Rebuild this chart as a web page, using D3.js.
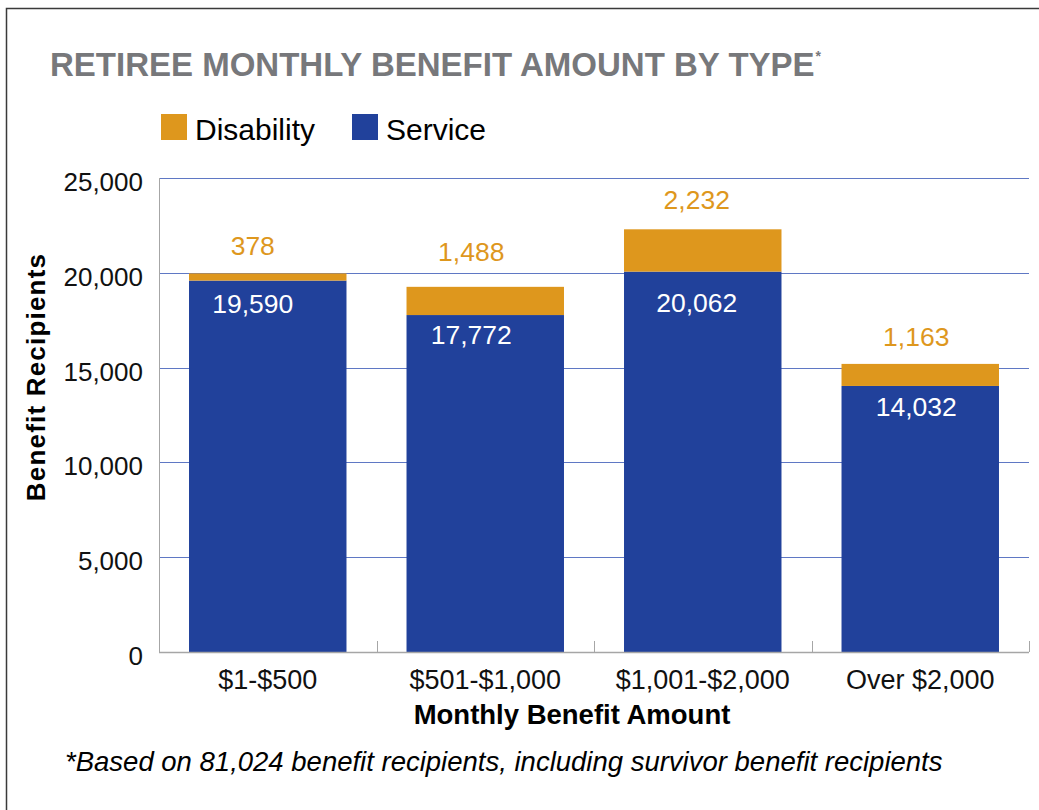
<!DOCTYPE html>
<html>
<head>
<meta charset="utf-8">
<script src="https://cdn.jsdelivr.net/npm/d3@7"></script>
<style>
    body { margin: 0; background: #fff; }
    svg { display: block; font-family: "Liberation Sans", Arial, sans-serif; }
</style>
</head>
<body>
<svg id="chart" width="1039" height="810"></svg>
<script>
// Chart data
const categories = ['$1-$500', '$501-$1,000', '$1,001-$2,000', 'Over $2,000'];
const serviceValues = [19590, 17772, 20062, 14032];
const disabilityValues = [378, 1488, 2232, 1163];
const yTicks = [0, 5000, 10000, 15000, 20000, 25000];

const seriesNames = ['Disability', 'Service'];
const colors = { Service: '#21419b', Disability: '#de971d' };

// hand-placed label nudges as in the original (px)
const labelDx = [-15, -14, -6, -4];
const serviceLabelDy = [1, -2, 9, -1];
const disabilityLabelDy = [2, -6, 0, 2];

const margin = { top: 178, right: 10, bottom: 158, left: 159 };
const W = 1039, H = 810;

const svg = d3.select('#chart');

// outer frame (only top and left edges are visible in the picture)
svg.append('rect')
    .attr('x', 6.5).attr('y', 8.5)
    .attr('width', W + 10).attr('height', H + 10)
    .attr('fill', 'none').attr('stroke', '#3a3a3a').attr('stroke-width', 1.5);

// Title
const title = svg.append('text')
    .attr('x', 50).attr('y', 76)
    .attr('fill', '#77787b')
    .attr('font-size', 33).attr('font-weight', 'bold')
    .text('RETIREE MONTHLY BENEFIT AMOUNT BY TYPE');
title.append('tspan')
    .attr('font-size', 14).attr('dy', -15).attr('dx', 1)
    .text('*');

// Scales
const x = d3.scaleBand().domain(categories)
    .range([margin.left, W - margin.right])
    .paddingInner(0.276).paddingOuter(0.138);
const y = d3.scaleLinear().domain([0, 25000]).range([H - margin.bottom, margin.top]);

// Gridlines
svg.append('g').selectAll('line').data(yTicks.filter(d => d > 0)).enter().append('line')
    .attr('x1', margin.left).attr('x2', W - margin.right)
    .attr('y1', d => Math.round(y(d)) + 0.5).attr('y2', d => Math.round(y(d)) + 0.5)
    .attr('stroke', '#5f78c4').attr('stroke-width', 1);

// Y axis labels
const yAxis = svg.append('g')
    .attr('transform', `translate(${margin.left},0)`)
    .call(d3.axisLeft(y).tickValues(yTicks).tickFormat(d3.format(',')).tickSize(0).tickPadding(16));
yAxis.select('.domain').remove();
yAxis.selectAll('text')
    .attr('font-size', 26).attr('fill', '#111').attr('dy', '0.48em')
    .attr('font-family', '"Liberation Sans", Arial, sans-serif');

// left axis line
svg.append('line')
    .attr('x1', margin.left + 0.5).attr('x2', margin.left + 0.5)
    .attr('y1', y(25000)).attr('y2', y(0))
    .attr('stroke', '#a6a6a6');

// Stacked bars
const stackData = categories.map((c, i) => ({ cat: c, i: i, Service: serviceValues[i], Disability: disabilityValues[i] }));
const stack = d3.stack().keys(['Service', 'Disability'])(stackData);

svg.append('g').selectAll('g').data(stack).enter().append('g')
    .attr('fill', d => colors[d.key])
    .selectAll('rect').data(d => d).enter().append('rect')
    .attr('x', d => x(d.data.cat))
    .attr('y', d => y(d[1]))
    .attr('width', x.bandwidth())
    .attr('height', d => y(d[0]) - y(d[1]));

// Value labels
svg.append('g').selectAll('text').data(stackData).enter().append('text')
    .attr('x', d => x(d.cat) + x.bandwidth() / 2 + labelDx[d.i])
    .attr('y', d => y(d.Service) + 31 + serviceLabelDy[d.i])
    .attr('text-anchor', 'middle').attr('font-size', 26.5).attr('fill', '#fff')
    .text(d => d3.format(',')(d.Service));

svg.append('g').selectAll('text').data(stackData).enter().append('text')
    .attr('x', d => x(d.cat) + x.bandwidth() / 2 + labelDx[d.i])
    .attr('y', d => y(d.Service + d.Disability) - 20 + disabilityLabelDy[d.i])
    .attr('text-anchor', 'middle').attr('font-size', 26.5).attr('fill', '#de971d')
    .text(d => d3.format(',')(d.Disability));

// X axis
const xAxis = svg.append('g')
    .attr('transform', `translate(0,${y(0)})`)
    .call(d3.axisBottom(x).tickSize(0).tickPadding(18));
xAxis.select('.domain').remove();
xAxis.selectAll('text')
    .attr('font-size', 27).attr('fill', '#111')
    .attr('font-family', '"Liberation Sans", Arial, sans-serif');

svg.append('line')
    .attr('x1', margin.left).attr('x2', W - margin.right)
    .attr('y1', Math.round(y(0)) + 0.5).attr('y2', Math.round(y(0)) + 0.5)
    .attr('stroke', '#a6a6a6').attr('stroke-width', 1.5);

// category boundary ticks
const bounds = d3.range(categories.length + 1).map(i => x.range()[0] + i * x.step());
svg.append('g').selectAll('line').data(bounds).enter().append('line')
    .attr('x1', d => Math.round(d) + 0.5).attr('x2', d => Math.round(d) + 0.5)
    .attr('y1', y(0) - 11).attr('y2', y(0))
    .attr('stroke', '#a6a6a6').attr('stroke-width', 1);

// Axis titles
svg.append('text')
    .attr('x', 572).attr('y', 724)
    .attr('text-anchor', 'middle').attr('font-size', 27.5).attr('font-weight', 'bold').attr('fill', '#000')
    .text('Monthly Benefit Amount');

svg.append('text')
    .attr('transform', 'translate(45,377) rotate(-90)')
    .attr('text-anchor', 'middle').attr('font-size', 26).attr('font-weight', 'bold')
    .attr('letter-spacing', 1.2).attr('fill', '#000')
    .text('Benefit Recipients');

// Legend
const legend = svg.append('g');
const legendX = [161, 352];
seriesNames.forEach((name, i) => {
    legend.append('rect')
        .attr('x', legendX[i]).attr('y', 114)
        .attr('width', 26).attr('height', 26)
        .attr('fill', colors[name]);
    legend.append('text')
        .attr('x', legendX[i] + 34).attr('y', 140)
        .attr('font-size', 30).attr('fill', '#000')
        .text(name);
});

// Footnote
svg.append('text')
    .attr('x', 65).attr('y', 771)
    .attr('font-size', 27.5).attr('font-style', 'italic').attr('fill', '#000')
    .text('*Based on 81,024 benefit recipients, including survivor benefit recipients');
</script>
</body>
</html>
